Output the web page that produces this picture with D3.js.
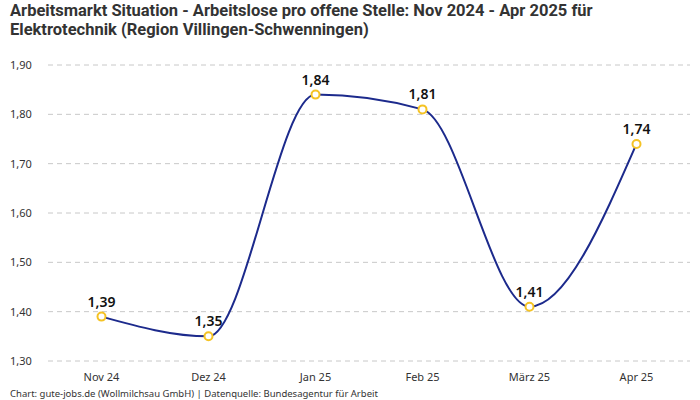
<!DOCTYPE html>
<html>
<head>
<meta charset="utf-8">
<script src="https://cdn.jsdelivr.net/npm/d3@7"></script>
<style>
  body { margin: 0; background: #fff; }
  text { font-family: "Noto Sans", sans-serif; }
  text.title { font-family: Roboto, sans-serif; }
</style>
</head>
<body>
<script>
let width = 700;
let height = 400;

let months = ["Nov 24", "Dez 24", "Jan 25", "Feb 25", "März 25", "Apr 25"];
let values = [1.39, 1.35, 1.84, 1.81, 1.41, 1.74];
let yTicks = [1.3, 1.4, 1.5, 1.6, 1.7, 1.8, 1.9];

let titleLines = [
    "Arbeitsmarkt Situation - Arbeitslose pro offene Stelle: Nov 2024 - Apr 2025 für",
    "Elektrotechnik (Region Villingen-Schwenningen)"
];
let sourceText = "Chart: gute-jobs.de (Wollmilchsau GmbH) | Datenquelle: Bundesagentur für Arbeit";

let fmt = (v) => v.toFixed(2).replace(".", ",");

let svg = d3.select("body")
            .append("svg")
            .attr("width", width)
            .attr("height", height);

let x = d3.scalePoint()
            .domain(months)
            .range([48, 690])
            .padding(0.5);

let y = d3.scaleLinear()
            .domain([1.3, 1.9])
            .range([361, 65]);

// title, two lines
svg.selectAll(".title")
    .data(titleLines)
    .enter()
    .append("text")
        .attr("class", "title")
        .attr("x", 10)
        .attr("y", (d, i) => 16 + i * 19)
        .attr("font-size", 16.5)
        .attr("font-weight", 700)
        .style("fill", "#333")
        .text((d) => d);

// grid lines
svg.selectAll(".grid")
    .data(yTicks)
    .enter()
    .append("line")
        .attr("x1", 48)
        .attr("x2", 690)
        .attr("y1", (d) => y(d))
        .attr("y2", (d) => y(d))
        .style("stroke", "#c8c8c8")
        .style("stroke-dasharray", "5,4")
        .style("stroke-width", 1);

// y labels
svg.selectAll(".ylab")
    .data(yTicks)
    .enter()
    .append("text")
        .attr("x", 10)
        .attr("y", (d) => y(d) + 4)
        .attr("font-size", 11)
        .style("fill", "#333")
        .text((d) => fmt(d));

// x labels
svg.selectAll(".xlab")
    .data(months)
    .enter()
    .append("text")
        .attr("x", (d) => x(d))
        .attr("y", 381)
        .attr("text-anchor", "middle")
        .attr("font-size", 11)
        .style("fill", "#333")
        .text((d) => d);

let points = months.map((m, i) => ({month: m, value: values[i]}));

let line = d3.line()
                .x((d) => x(d.month))
                .y((d) => y(d.value))
                .curve(d3.curveMonotoneX);

svg.append("path")
    .datum(points)
    .attr("d", line)
    .style("fill", "none")
    .style("stroke", "#1c2a8c")
    .style("stroke-width", 2);

svg.selectAll(".dot")
    .data(points)
    .enter()
    .append("circle")
        .attr("cx", (d) => x(d.month))
        .attr("cy", (d) => y(d.value))
        .attr("r", 4)
        .style("fill", "#fff")
        .style("stroke", "#f5c324")
        .style("stroke-width", 2);

svg.selectAll(".vlab")
    .data(points)
    .enter()
    .append("text")
        .attr("x", (d) => x(d.month))
        .attr("y", (d) => y(d.value) - 10)
        .attr("text-anchor", "middle")
        .attr("font-size", 14)
        .attr("font-weight", 600)
        .style("fill", "#111")
        .text((d) => fmt(d.value));

svg.append("text")
    .attr("x", 10)
    .attr("y", 397)
    .attr("font-size", 9.5)
    .style("fill", "#333")
    .text(sourceText);
</script>
</body>
</html>
